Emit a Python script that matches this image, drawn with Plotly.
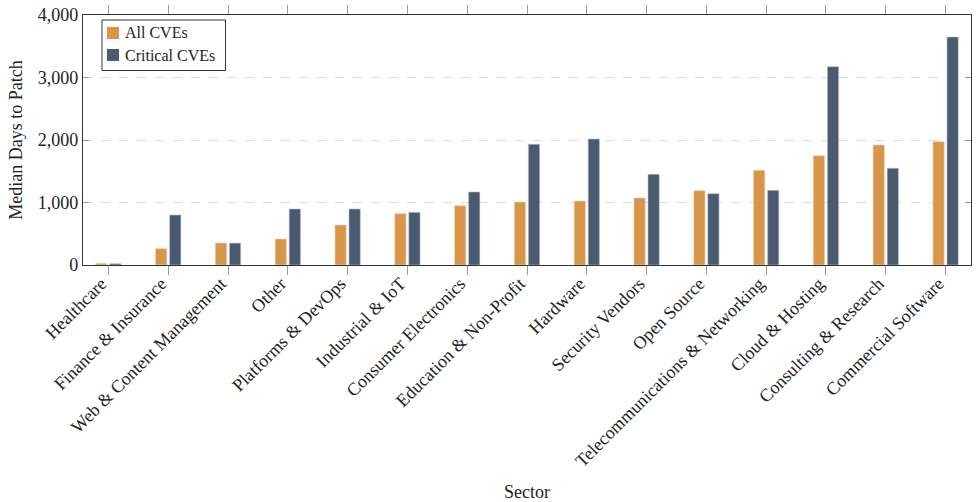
import plotly.graph_objects as go

sectors = ["Healthcare", "Finance & Insurance", "Web & Content Management", "Other",
           "Platforms & DevOps", "Industrial & IoT", "Consumer Electronics",
           "Education & Non-Profit", "Hardware", "Security Vendors", "Open Source",
           "Telecommunications & Networking", "Cloud & Hosting", "Consulting & Research",
           "Commercial Software"]
all_cves = [25, 261, 352, 416, 640, 821, 949, 1008, 1024, 1072, 1189, 1515, 1749, 1920, 1973]
critical_cves = [20, 800, 350, 896, 896, 843, 1168, 1931, 2016, 1451, 1141, 1195, 3173, 1547, 3648]
series_names = ["All CVEs", "Critical CVEs"]
series_colors = ["#D8964A", "#4A5A70"]

FONT = "Liberation Serif"
W, H = 978, 502
ML, MR, MT, MB = 83, 7, 15, 237
PW, PH = W - ML - MR, H - MT - MB


def px(x):
    return (x - ML) / PW


def py(y):
    return (H - MB - y) / PH


fig = go.Figure()
for name, vals, col, edge in zip(series_names, [all_cves, critical_cves], series_colors,
                                 ["#F0D2AE", "#B8C0CC"]):
    fig.add_trace(go.Bar(x=sectors, y=vals, name=name, showlegend=False,
                         marker=dict(color=col, line=dict(color=edge, width=0.6))))

# manual legend (pgfplots style)
shapes = [dict(type="rect", xref="paper", yref="paper",
               x0=px(102), x1=px(225.5), y0=py(70.5), y1=py(20),
               line=dict(color="#333", width=1), fillcolor="white", layer="above")]
annotations = []
for i, (name, col) in enumerate(zip(series_names, series_colors)):
    cy = 33 + i * 22
    shapes.append(dict(type="rect", xref="paper", yref="paper",
                       x0=px(107), x1=px(119), y0=py(cy + 6), y1=py(cy - 6),
                       line=dict(width=0), fillcolor=col, layer="above"))
    annotations.append(dict(xref="paper", yref="paper", x=px(123), y=py(cy),
                            text=name, showarrow=False, xanchor="left", yanchor="middle",
                            font=dict(family=FONT, size=16, color="#222")))

fig.update_layout(
    width=W, height=H,
    margin=dict(l=ML, r=MR, t=MT, b=MB),
    barmode="group", bargap=0.53, bargroupgap=0.2,
    plot_bgcolor="white", paper_bgcolor="white",
    font=dict(family=FONT, size=18, color="#222"),
    shapes=shapes, annotations=annotations,
    showlegend=False,
)
fig.update_xaxes(
    title=dict(text="Sector", font=dict(family=FONT, size=18), standoff=24),
    range=[-0.425, 14.425], tickangle=-45, automargin=False,
    ticklabelstandoff=-9, ticklabelshift=-7,
    showline=True, linecolor="#333", linewidth=1.2, mirror="ticks",
    ticks="outside", ticklen=9, tickcolor="#999", tickwidth=1,
    showgrid=False, tickfont=dict(family=FONT, size=18),
)
fig.update_yaxes(
    title=dict(text="Median Days to Patch", font=dict(family=FONT, size=18), standoff=10),
    range=[0, 4000], tickvals=[0, 1000, 2000, 3000, 4000], tickformat=",",
    automargin=False,
    showline=True, linecolor="#333", linewidth=1.2, mirror="ticks",
    ticks="inside", ticklen=6, tickcolor="#999",
    showgrid=True, gridcolor="#DDDDDD", griddash="dash", gridwidth=1,
    zeroline=False, tickfont=dict(family=FONT, size=18),
)
fig.write_html("out.html")
